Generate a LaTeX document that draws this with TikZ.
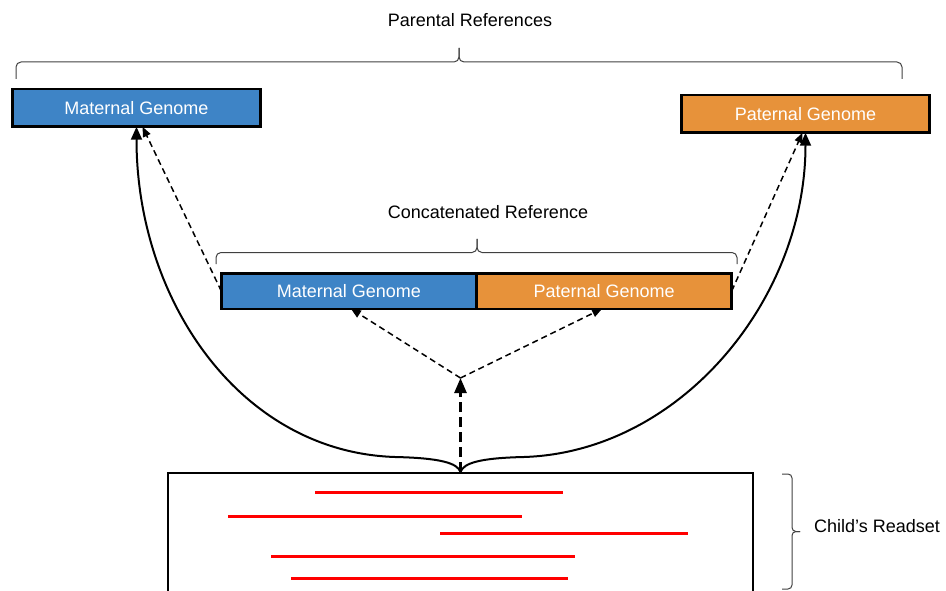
\documentclass[tikz,border=0pt]{standalone}
\usepackage{fontspec}
\setmainfont{Liberation Sans}
\usetikzlibrary{arrows.meta}
\definecolor{matblue}{RGB}{62,132,198}
\definecolor{patorange}{RGB}{231,146,58}
\definecolor{bracegray}{RGB}{64,64,64}
\definecolor{readred}{RGB}{255,0,0}

\begin{document}
\begin{tikzpicture}[x=1pt,y=-1pt,
  font=\fontsize{18}{21.6}\selectfont,
  genome/.style={draw=black, line width=2.5pt, text=white, minimum height=37.5pt,
                 inner sep=0pt, outer sep=0pt},
  bracepath/.style={draw=bracegray, line width=1pt, rounded corners=5pt},
  plaintext/.style={text=black, inner sep=0pt},
  linkarrow/.style={line width=2pt, -{Triangle[length=13pt,width=11pt]}},
  thinlink/.style={line width=1.5pt, dash pattern=on 6pt off 4pt,
                   -{Triangle[length=10pt,width=8pt]}},
  thicklink/.style={line width=2.6pt, dash pattern=on 10pt off 5pt,
                    -{Triangle[length=15pt,width=12pt]}},
  readline/.style={draw=readred, line width=3pt}
]
\useasboundingbox (0,0) rectangle (946,591);

% parental genomes
\node[genome, fill=matblue, minimum width=248pt] (mat) at (136.5,108) {Maternal Genome};
\node[genome, fill=patorange, minimum width=248pt] (pat) at (805.5,114) {Paternal Genome};

% concatenated reference
\node[genome, fill=matblue, minimum width=255.25pt, minimum height=35.5pt] (cmat) at (348.9,291) {Maternal Genome};
\node[genome, fill=patorange, minimum width=255.25pt, minimum height=35.5pt] (cpat) at (604.1,291) {Paternal Genome};

% child's readset
\node[draw=black, line width=2pt, minimum width=585pt, minimum height=140pt,
      inner sep=0pt] (read) at (460.5,543) {};
\draw[readline] (315,492) -- (563,492);
\draw[readline] (228,516) -- (522,516);
\draw[readline] (440,533) -- (688,533);
\draw[readline] (271,556) -- (575,556);
\draw[readline] (291,578) -- (568,578);

% labels
\node[plaintext] (parentlabel) at (470,20) {Parental References};
\node[plaintext] (concatlabel) at (488,212) {Concatenated Reference};
\node[plaintext, anchor=west] (readlabel) at (814,526) {Child’s Readset};

% braces
\draw[bracepath] (16,79) -- (16,62) -- (459,62) -- (459,48);
\draw[bracepath] (459,48) -- (459,62) -- (902,62) -- (902,79);
\draw[bracepath] (216,264) -- (216,252.5) -- (477,252.5) -- (477,239);
\draw[bracepath] (477,239) -- (477,252.5) -- (737,252.5) -- (737,264);
\draw[bracepath, rounded corners=4pt] (782,474) -- (792,474) -- (792,531.5) -- (800,531.5);
\draw[bracepath, rounded corners=4pt] (800,531.5) -- (792,531.5) -- (792,589) -- (782,589);

% alignment paths
\coordinate (split) at ([yshift=94pt]read.north);
\draw[thicklink] (read.north) -- (split);
\draw[thinlink] (split) -- ([xshift=2pt]cmat.south);
\draw[thinlink] (split) -- ([xshift=-2pt]cpat.south);
\draw[thinlink] (cmat.west) -- ([xshift=6pt]mat.south);
\draw[thinlink] (cpat.east) -- ([xshift=-3pt]pat.south);

\draw[linkarrow] (read.north) .. controls +(-3,-9) and (440,458) .. (395,457)
  .. controls (240,452) and (136.5,300) .. (mat.south);
\draw[linkarrow] (read.north) .. controls +(3,-9) and (480,458) .. (524,457)
  .. controls (680,452) and (805.5,300) .. (pat.south);
\end{tikzpicture}
\end{document}
